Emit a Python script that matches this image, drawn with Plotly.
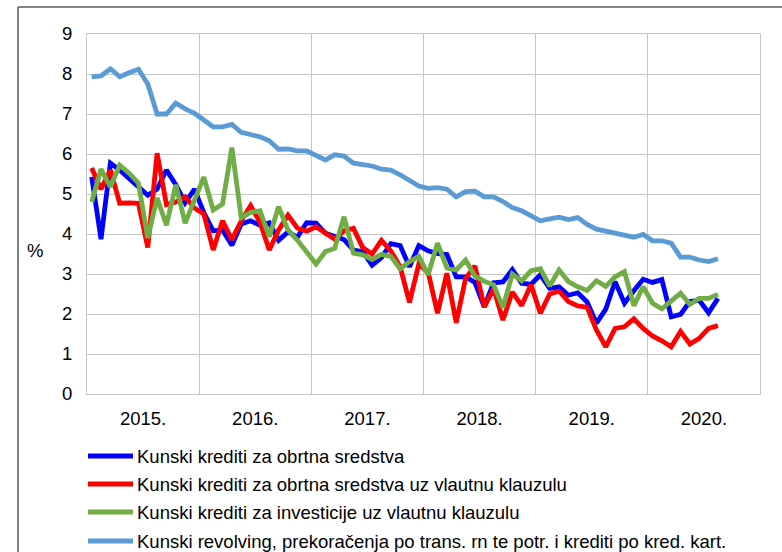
import plotly.graph_objects as go

# Monthly observations, Jan 2015 - Aug 2020 (72 category slots on the axis, 68 with data)
months = [f"{y}-{m:02d}" for y in range(2015, 2021) for m in range(1, 13)][:68]
n_slots = 72
year_labels = ["2015.", "2016.", "2017.", "2018.", "2019.", "2020."]

obrtna = [5.43, 3.87, 5.77, 5.6, 5.39, 5.18, 4.97, 5.12, 5.6, 5.23, 4.78, 5.12,
          4.53, 4.08, 4.1, 3.72, 4.25, 4.33, 4.22, 4.28, 3.84, 4.05, 3.92, 4.28,
          4.27, 4.02, 3.94, 3.86, 3.6, 3.56, 3.22, 3.41, 3.76, 3.71, 3.18, 3.71,
          3.58, 3.51, 3.49, 2.93, 2.93, 2.79, 2.18, 2.78, 2.8, 3.11, 2.77, 2.74,
          2.98, 2.64, 2.68, 2.47, 2.53, 2.3, 1.77, 2.12, 2.81, 2.27, 2.58, 2.87,
          2.79, 2.86, 1.93, 1.99, 2.31, 2.34, 2.03, 2.39]

obrtna_vk = [5.65, 5.12, 5.6, 4.77, 4.78, 4.77, 3.66, 6.02, 4.73, 4.8, 4.93, 4.65,
             4.5, 3.6, 4.33, 3.86, 4.33, 4.71, 4.3, 3.6, 4.1, 4.47, 4.15, 4.07,
             4.18, 4.02, 3.87, 4.08, 4.14, 3.66, 3.5, 3.84, 3.58, 3.18, 2.29, 3.25,
             3.04, 2.02, 3.02, 1.78, 2.89, 3.2, 2.18, 2.63, 1.85, 2.55, 2.21, 2.73,
             2.02, 2.5, 2.57, 2.31, 2.2, 2.17, 1.6, 1.18, 1.64, 1.68, 1.88, 1.64,
             1.45, 1.33, 1.18, 1.56, 1.25, 1.39, 1.64, 1.71]

investicije_vk = [4.8, 5.62, 5.18, 5.72, 5.52, 5.27, 3.9, 4.9, 4.22, 5.23, 4.27, 4.85,
                  5.42, 4.6, 4.75, 6.16, 4.41, 4.54, 4.58, 3.93, 4.68, 4.1, 3.85, 3.55,
                  3.25, 3.56, 3.64, 4.43, 3.52, 3.48, 3.36, 3.49, 3.44, 3.13, 3.31, 3.44,
                  2.98, 3.77, 3.15, 3.1, 3.35, 2.95, 2.82, 2.73, 2.16, 3.0, 2.83, 3.08,
                  3.13, 2.7, 3.1, 2.81, 2.68, 2.59, 2.83, 2.69, 2.93, 3.06, 2.21, 2.68,
                  2.27, 2.13, 2.34, 2.52, 2.24, 2.39, 2.39, 2.49]

revolving = [7.93, 7.95, 8.13, 7.93, 8.03, 8.12, 7.75, 7.0, 7.0, 7.27, 7.13, 7.02,
             6.85, 6.68, 6.68, 6.74, 6.54, 6.5, 6.43, 6.33, 6.12, 6.13, 6.08, 6.08,
             5.95, 5.85, 5.98, 5.95, 5.77, 5.74, 5.7, 5.62, 5.6, 5.48, 5.33, 5.2,
             5.14, 5.16, 5.12, 4.93, 5.06, 5.07, 4.93, 4.93, 4.81, 4.66, 4.58, 4.46,
             4.33, 4.38, 4.42, 4.36, 4.41, 4.24, 4.12, 4.07, 4.03, 3.98, 3.92, 3.99,
             3.83, 3.83, 3.77, 3.42, 3.42, 3.35, 3.31, 3.38]

series_names = [
    "Kunski krediti za obrtna sredstva",
    "Kunski krediti za obrtna sredstva uz vlautnu klauzulu",
    "Kunski krediti za investicije uz vlautnu klauzulu",
    "Kunski revolving, prekoračenja po trans. rn te potr. i krediti po kred. kart.",
]
series_values = [obrtna, obrtna_vk, investicije_vk, revolving]
colors = ["#0000FF", "#FF0000", "#70AD47", "#5B9BD5"]

W, H = 782, 552
L, R, T, B = 87, 760, 34, 394  # plot area in pixels
FONT = "Liberation Sans, Arial, sans-serif"
FS = 18.5
GRID = "#C6C6C6"


def px_x(px):
    return (px - L) / (R - L)


def px_y(py):
    return (B - py) / (B - T)


x_idx = list(range(len(months)))
fig = go.Figure()
for name, vals, col in zip(series_names, series_values, colors):
    fig.add_trace(go.Scatter(
        x=x_idx, y=vals, mode="lines", name=name,
        line=dict(color=col, width=4.8, shape="linear"),
        text=months, hovertemplate="%{text}: %{y:.2f}%<extra></extra>",
        showlegend=False,
    ))

# manual legend, stacked below the plot
legend_rows = [456, 484, 512, 541]
shapes = []
annotations = []
for name, col, py in zip(series_names, colors, legend_rows):
    shapes.append(dict(type="line", xref="paper", yref="paper",
                       x0=px_x(88), x1=px_x(133), y0=px_y(py), y1=px_y(py),
                       line=dict(color=col, width=5)))
    annotations.append(dict(xref="paper", yref="paper", x=px_x(135), y=px_y(py),
                            xanchor="left", yanchor="middle", showarrow=False,
                            text=name, font=dict(family=FONT, size=FS, color="#000000")))

# outer frame lines (top and left)
shapes.append(dict(type="line", xref="paper", yref="paper",
                   x0=px_x(18), x1=px_x(782), y0=px_y(7), y1=px_y(7),
                   line=dict(color="#5A5A5A", width=1.5)))
shapes.append(dict(type="line", xref="paper", yref="paper",
                   x0=px_x(18), x1=px_x(18), y0=px_y(7), y1=px_y(552),
                   line=dict(color="#5A5A5A", width=1.5)))

annotations.append(dict(xref="paper", yref="paper", x=px_x(35), y=px_y(250),
                        xanchor="center", yanchor="middle", showarrow=False,
                        text="%", font=dict(family=FONT, size=FS, color="#000000")))

fig.update_layout(
    width=W, height=H,
    margin=dict(l=L, r=W - R, t=T, b=H - B, pad=0),
    paper_bgcolor="white", plot_bgcolor="white",
    font=dict(family=FONT, size=FS, color="#000000"),
    shapes=shapes, annotations=annotations,
    showlegend=False,
    xaxis=dict(
        range=[-0.5, n_slots - 0.5],
        tickmode="array",
        tickvals=[5.5 + 12 * k for k in range(len(year_labels))],
        ticktext=year_labels,
        showgrid=False, zeroline=False, ticks="",
        ticklabelstandoff=8,
        showline=True, linecolor=GRID, linewidth=1, mirror=True,
        minor=dict(tick0=-0.5, dtick=12, showgrid=True, gridcolor=GRID, gridwidth=1, ticks=""),
        tickfont=dict(family=FONT, size=FS),
        fixedrange=True,
    ),
    yaxis=dict(
        range=[0, 9], dtick=1, tick0=0,
        showgrid=True, gridcolor=GRID, gridwidth=1,
        zeroline=False, ticks="",
        ticklabelstandoff=10,
        showline=True, linecolor=GRID, linewidth=1, mirror=True,
        tickfont=dict(family=FONT, size=FS),
        fixedrange=True,
    ),
)

fig.write_html("out.html",
               config={"displayModeBar": False},
               post_script="document.body.style.margin='0';document.body.style.overflow='hidden';")
